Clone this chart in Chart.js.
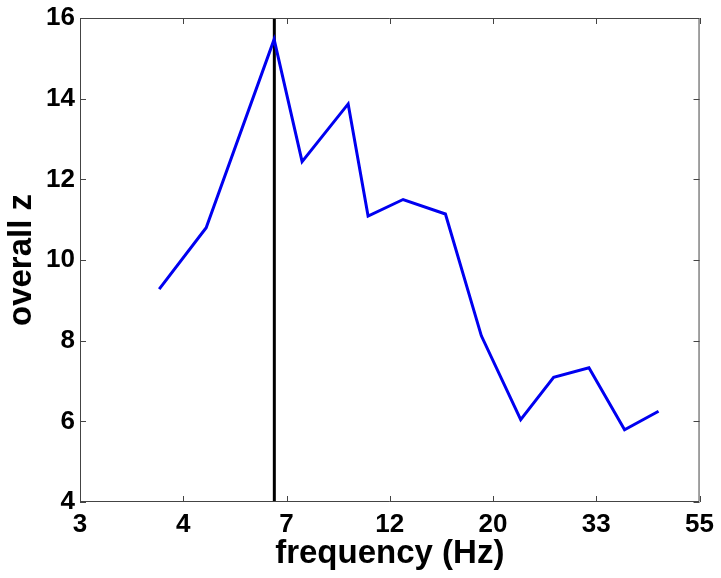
<!DOCTYPE html>
<html>
<head>
<meta charset="utf-8">
<script src="https://cdn.jsdelivr.net/npm/chart.js@4.4.1/dist/chart.umd.min.js"></script>
<style>
  html, body { margin: 0; padding: 0; background: #fff; }
  canvas { display: block; }
</style>
</head>
<body>
<canvas id="zChart" width="721" height="578"></canvas>
<script>
// x axis is in tick units (0 = "3", 6 = "55")
var freqTickLabels = ['3', '4', '7', '12', '20', '33', '55'];
var freqPos = [0.767, 1.222, 1.880, 2.151, 2.597, 2.790, 3.129, 3.539, 3.887, 4.268, 4.587, 4.929, 5.274, 5.603];
var overallZ = [9.28, 10.80, 15.47, 12.44, 13.87, 11.09, 11.50, 11.14, 8.12, 6.04, 7.09, 7.33, 5.79, 6.25];
var peakPos = 1.882;
var yTicks = [4, 6, 8, 10, 12, 14, 16];

var fontFamily = "'Liberation Sans', Arial, Helvetica, sans-serif";
var frameColor = '#444';

var lineData = [];
for (var i = 0; i < freqPos.length; i++) {
    lineData.push({ x: freqPos[i], y: overallZ[i] });
}

// matlab style box with ticks pointing inward
var frameTicks = {
    id: 'frameTicks',
    afterDatasetsDraw: function (chart) {
        var ctx = chart.ctx;
        var a = chart.chartArea;
        var xs = chart.scales.x, ys = chart.scales.y;
        var len = 6;
        ctx.save();
        ctx.strokeStyle = frameColor;
        ctx.lineWidth = 1;
        ctx.beginPath();
        ctx.rect(a.left + 0.5, a.top + 0.5, a.right - a.left - 1, a.bottom - a.top - 1);
        for (var i = 0; i < freqTickLabels.length; i++) {
            var px = Math.round(xs.getPixelForValue(i)) + 0.5;
            ctx.moveTo(px, a.bottom);
            ctx.lineTo(px, a.bottom - len);
            ctx.moveTo(px, a.top);
            ctx.lineTo(px, a.top + len);
        }
        for (var j = 0; j < yTicks.length; j++) {
            var py = Math.round(ys.getPixelForValue(yTicks[j])) + 0.5;
            ctx.moveTo(a.left, py);
            ctx.lineTo(a.left + len, py);
            ctx.moveTo(a.right, py);
            ctx.lineTo(a.right - len, py);
        }
        ctx.stroke();
        ctx.restore();
    }
};

var ctx = document.getElementById('zChart').getContext('2d');
var zChart = new Chart(ctx, {
    type: 'line',
    data: {
        datasets: [
            {
                label: 'overall z',
                data: lineData,
                borderColor: 'rgb(0,0,240)',
                borderWidth: 3,
                pointRadius: 0,
                tension: 0,
                fill: false,
                order: 1
            },
            {
                label: 'peak',
                data: [{ x: peakPos, y: 4 }, { x: peakPos, y: 16 }],
                borderColor: '#000',
                borderWidth: 3,
                pointRadius: 0,
                fill: false,
                order: 2
            }
        ]
    },
    options: {
        responsive: false,
        animation: false,
        devicePixelRatio: 1,
        layout: { padding: { top: 16, right: 21, left: 0, bottom: 0 } },
        plugins: {
            legend: { display: false },
            tooltip: { enabled: false }
        },
        scales: {
            x: {
                type: 'linear',
                min: 0,
                max: 6,
                afterFit: function (scale) { scale.height = 76; },
                afterBuildTicks: function (scale) {
                    scale.ticks = freqTickLabels.map(function (l, i) { return { value: i }; });
                },
                grid: { display: false, drawTicks: false },
                border: { display: false },
                ticks: {
                    color: '#000',
                    padding: 7,
                    maxRotation: 0,
                    autoSkip: false,
                    font: { family: fontFamily, size: 26, weight: 'bold' },
                    callback: function (value) { return freqTickLabels[value]; }
                },
                title: {
                    display: true,
                    text: 'frequency (Hz)',
                    color: '#000',
                    padding: { top: 0, bottom: 4 },
                    font: { family: fontFamily, size: 33, weight: 'bold' }
                }
            },
            y: {
                min: 4,
                max: 16,
                afterFit: function (scale) { scale.width = 80; },
                afterBuildTicks: function (scale) {
                    scale.ticks = yTicks.map(function (v) { return { value: v }; });
                },
                grid: { display: false, drawTicks: false },
                border: { display: false },
                ticks: {
                    color: '#000',
                    padding: 5,
                    font: { family: fontFamily, size: 26, weight: 'bold', lineHeight: 1 }
                },
                title: {
                    display: true,
                    text: 'overall z',
                    color: '#000',
                    padding: { top: 2, bottom: 0 },
                    font: { family: fontFamily, size: 33, weight: 'bold' }
                }
            }
        }
    },
    plugins: [frameTicks]
});
</script>
</body>
</html>
